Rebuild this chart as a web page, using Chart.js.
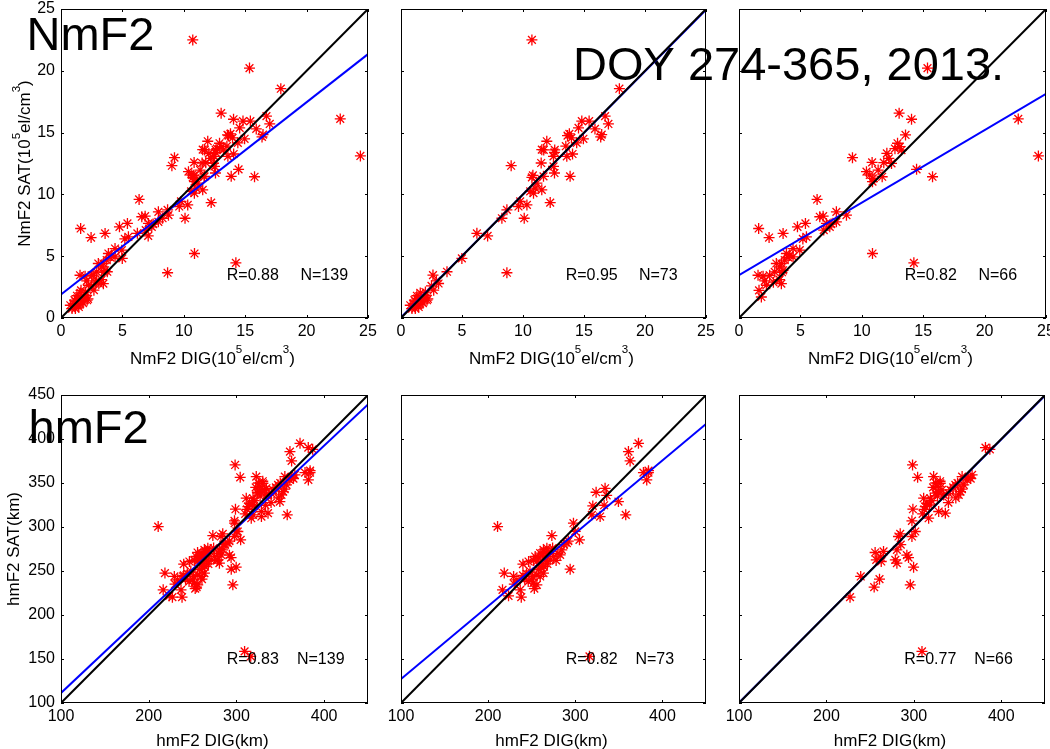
<!DOCTYPE html>
<html>
<head>
<meta charset="utf-8">
<script src="https://cdn.jsdelivr.net/npm/chart.js@4.4.1/dist/chart.umd.min.js"></script>
<style>
  html, body { margin: 0; padding: 0; background: #fff; overflow: hidden; }
  #fig { position: relative; width: 1050px; height: 749px; }
  #fig canvas { position: absolute; left: 0; top: 0; }
</style>
</head>
<body>
<div id="fig"></div>
<script>
// ---- NmF2 (10^5 el/cm^3): ionosonde (DIG) vs satellite (SAT), two sub-sets ----
const nmDigA = [
  10.73,17.9,14.82,15.42,16.73,17.0,14.55,15.9,16.45,16.37,
  14.95,13.65,13.97,14.4,11.95,11.54,11.7,12.58,12.5,13.51,
  13.59,14.06,11.49,12.5,9.03,10.81,10.73,12.58,13.86,11.68,
  11.14,10.59,10.86,11.54,9.77,9.63,10.32,12.23,10.1,8.68,
  8.27,6.22,7.1,4.99,3.77,8.68,2.62,3.08,2.68,1.58,
  1.99,2.13,1.31,1.04,0.76,1.45,1.72,1.17,0.9,1.86,
  1.2,1.4,1.6,1.3,1.8,2.2,2.0,1.1,2.5,2.9,
  11.0,12.6,13.8];
const nmSatA = [
  22.5,18.55,15.93,15.93,16.33,15.7,15.38,15.3,14.84,14.65,
  14.5,14.76,14.57,14.17,14.3,13.62,13.6,13.4,13.08,13.9,
  13.08,13.27,12.54,12.27,12.32,11.54,11.38,11.73,11.46,11.46,
  10.92,10.24,10.1,10.37,9.43,9.02,9.15,9.34,8.07,8.75,
  8.07,6.85,6.64,4.82,3.74,3.66,3.47,2.79,2.25,2.03,
  1.84,1.44,1.57,1.16,1.03,0.89,1.3,0.76,0.76,1.7,
  1.1,1.05,1.45,1.8,1.2,1.55,2.1,1.45,2.6,3.0,
  10.5,13.6,14.9];
const nmDigB = [
  15.35,22.74,24.38,13.04,14.05,13.56,12.91,13.1,13.23,9.24,
  10.84,12.04,12.2,11.79,12.42,11.33,10.38,10.65,11.66,10.87,
  14.46,15.76,6.36,6.85,6.58,7.93,8.75,7.12,7.39,6.9,
  7.93,4.76,5.41,5.49,1.6,3.59,2.45,4.4,4.95,3.86,
  4.4,10.87,14.24,3.72,3.45,3.32,3.59,2.91,2.5,1.55,
  1.96,3.45,2.23,1.63,1.82,3.04,4.13,3.3,2.8,3.5,
  2.1,4.0,5.2,7.5,10.9,12.7];
const nmSatB = [
  20.22,16.11,13.11,16.57,16.08,14.81,14.14,13.86,13.59,12.97,
  12.59,13.32,12.92,12.57,12.51,11.97,11.84,11.57,11.43,11.03,
  12.03,11.43,9.59,8.24,8.19,8.59,8.32,7.65,7.38,7.11,
  7.78,7.38,7.65,6.57,7.24,6.84,6.51,5.62,5.49,5.22,
  4.95,5.22,4.46,4.68,4.41,4.14,3.86,3.73,3.46,3.46,
  3.38,2.78,2.65,2.24,1.7,4.41,5.08,3.1,2.9,3.7,
  3.0,4.9,6.4,7.6,11.3,13.7];

// ---- hmF2 (km) ----
const hmDigA = [
  210.8,218.5,216.5,223.4,229.2,236.8,238.0,233.0,239.9,246.4,
  250.2,252.0,255.9,254.0,259.7,263.5,267.4,261.6,263.5,259.7,
  255.9,273.1,271.2,275.0,282.6,284.5,290.3,294.1,297.9,304.8,
  320.1,323.9,334.2,333.1,328.5,319.0,349.5,357.9,361.0,362.9,
  372.5,378.2,383.9,382.0,316.3,244,248,252,258,262,
  265,268,270,266,262,258,256,251,246,242,
  253,264,268,278,280,287,292,230,240,274,
  300,336,384];
const hmSatA = [
  300.5,247.6,228.6,221.8,243.8,228.6,220.3,240.0,257.8,260.8,
  240.0,236.2,234.3,266.5,270.3,274.0,275.9,253.2,247.6,243.8,
  260.8,290.3,262.7,266.5,268.4,274.0,281.6,252.1,304.3,285.4,
  324.0,339.5,344.0,324.7,311.9,313.8,328.9,313.8,385.7,375.1,
  395.1,361.8,361.8,353.5,153.0,247,250,262,265,268,
  271,270,272,262,258,252,245,244,238,241,
  230,255,258,262,270,280,284,235,245,276,
  295,336,364];
const hmDigB = [
  298.5,304.3,309.3,227,239.2,254.6,260.7,295.9,299.7,255.7,
  265.3,257,262.7,280.6,278.8,280.6,293.9,284.4,282.4,297.8,
  301.6,297.8,298.9,316.9,311.2,315,313.1,328.4,336,322.6,
  326.4,330.2,324.5,332.1,334.1,341.8,347.5,353.3,351.3,357.1,
  355.2,366.6,362.8,381.9,386.9,360.9,339.5,318.9,322,325,
  328,330,327,320,318,312,340,345,350,348,
  355,365,310,262,285,292];
const hmSatB = [
  370.5,356.5,158.6,220.3,243.8,231.7,240.7,234.3,254.4,271,
  272.2,262.7,260.8,274,262.7,258.9,265.3,292.2,289.2,289.2,
  294.9,307,320.2,310,332.7,327,323.2,317.6,315.7,357.3,
  345.9,349.7,338.4,342.1,336.5,342.1,347.8,340.3,336.5,347.8,
  357.3,359.2,356.5,390.2,388.3,353.5,327.8,332.7,345,350,
  340,352,335,330,325,320,338,345,350,333,
  343,355,315,266,280,268];

// ---- axes ----
const nmRange = [0, 25];
const hmRange = [100, 450];
const nmTicks = [0, 5, 10, 15, 20, 25];
const hmTicksX = [100, 200, 300, 400];
const hmTicksY = [100, 150, 200, 250, 300, 350, 400, 450];

// ---- linear fits (SAT = a + b * DIG) and correlations: all, A, B ----
const nmIntercepts = [1.9, 0.05, 3.46];
const nmSlopes = [0.778, 0.995, 0.587];
const nmCorr = ['0.88', '0.95', '0.82'];
const hmIntercepts = [17.7, 44.4, 0.8];
const hmSlopes = [0.937, 0.828, 0.997];
const hmCorr = ['0.83', '0.82', '0.77'];

// ---- titles ----
const nmTitle = 'NmF2';
const hmTitle = 'hmF2';
const periodTitle = 'DOY 274-365, 2013.';

const FONT = "'Liberation Sans', Arial, Helvetica, sans-serif";
const W = 1050, H = 749;
const YW = 40, XH = 30;

// plot rectangles [left, top, right, bottom]
const areas = [
  [61, 9, 368, 318], [401, 9, 706, 318], [739, 9, 1046, 318],
  [61, 395, 368, 703], [401, 395, 706, 703], [739, 395, 1045, 703]
];

const nmXLabel = [['NmF2 DIG(10', 0], ['5', 1], ['el/cm', 0], ['3', 1], [')', 0]];
const nmYLabel = [['NmF2 SAT(10', 0], ['5', 1], ['el/cm', 0], ['3', 1], [')', 0]];
const hmXLabel = [['hmF2 DIG(km)', 0]];
const hmYLabel = [['hmF2 SAT(km)', 0]];

// text with superscript pieces, centred on x, baseline at y
function drawRich(ctx, parts, size, x, y) {
  const sup = size * 0.68;
  const widths = parts.map(([t, s]) => {
    ctx.font = (s ? sup : size) + 'px ' + FONT;
    return ctx.measureText(t).width;
  });
  const total = widths.reduce((p, q) => p + q, 0);
  let cx = x - total / 2;
  ctx.textAlign = 'left';
  ctx.textBaseline = 'alphabetic';
  parts.forEach(([t, s], i) => {
    ctx.font = (s ? sup : size) + 'px ' + FONT;
    ctx.fillText(t, cx, s ? y - size * 0.6 : y);
    cx += widths[i];
  });
}

function decor(cfg) {
  return {
    id: 'decor',
    beforeDraw(chart) {
      if (!cfg.banners) return;
      const ctx = chart.ctx;
      ctx.save();
      ctx.fillStyle = '#000';
      ctx.textAlign = 'left';
      ctx.textBaseline = 'alphabetic';
      ctx.font = '47px ' + FONT;
      cfg.banners.forEach(b => ctx.fillText(b[0], b[1], b[2]));
      ctx.restore();
    },
    afterDraw(chart) {
      const { ctx, chartArea: a, scales: { x, y } } = chart;
      ctx.save();
      ctx.strokeStyle = '#000';
      ctx.lineWidth = 1;
      ctx.strokeRect(a.left + 0.5, a.top + 0.5, a.right - a.left - 1, a.bottom - a.top - 1);
      const tl = 3;
      ctx.beginPath();
      cfg.xTicks.forEach(v => {
        const px = Math.round(x.getPixelForValue(v)) + 0.5;
        ctx.moveTo(px, a.bottom); ctx.lineTo(px, a.bottom - tl);
        ctx.moveTo(px, a.top); ctx.lineTo(px, a.top + tl);
      });
      cfg.yTicks.forEach(v => {
        const py = Math.round(y.getPixelForValue(v)) + 0.5;
        ctx.moveTo(a.left, py); ctx.lineTo(a.left + tl, py);
        ctx.moveTo(a.right, py); ctx.lineTo(a.right - tl, py);
      });
      ctx.stroke();

      ctx.fillStyle = '#000';
      ctx.font = '16px ' + FONT;
      ctx.textAlign = 'left';
      ctx.textBaseline = 'middle';
      const sy = y.getPixelForValue(cfg.statY);
      ctx.fillText('R=' + cfg.r, x.getPixelForValue(cfg.statX[0]), sy);
      ctx.fillText('N=' + cfg.n, x.getPixelForValue(cfg.statX[1]), sy);

      const midX = (a.left + a.right) / 2 - 2;
      drawRich(ctx, cfg.xLabel, 17, midX, cfg.xLabelY);
      if (cfg.yLabel) {
        ctx.save();
        ctx.translate(cfg.yLabelX, (a.top + a.bottom) / 2);
        ctx.rotate(-Math.PI / 2);
        drawRich(ctx, cfg.yLabel, 17, 0, 0);
        ctx.restore();
      }
      ctx.restore();
    }
  };
}

function zeroPad(s) {
  s.paddingLeft = 0; s.paddingRight = 0; s.paddingTop = 0; s.paddingBottom = 0;
}

function makePanel(p) {
  const fig = document.getElementById('fig');
  const canvas = document.createElement('canvas');
  canvas.width = W; canvas.height = H;
  canvas.style.width = W + 'px'; canvas.style.height = H + 'px';
  fig.appendChild(canvas);
  const [l, t, r, b] = p.area;
  const pts = p.dig.map((v, i) => ({ x: v, y: p.sat[i] }));
  const lo = p.range[0], hi = p.range[1];
  const tickFont = { family: FONT, size: 16 };
  return new Chart(canvas, {
    type: 'scatter',
    data: {
      datasets: [
        { data: [{ x: lo, y: lo }, { x: hi, y: hi }], showLine: true, borderColor: '#000',
          borderWidth: 2, pointRadius: 0, fill: false },
        { data: [{ x: lo, y: p.a + p.b * lo }, { x: hi, y: p.a + p.b * hi }], showLine: true,
          borderColor: '#0000ff', borderWidth: 2, pointRadius: 0, fill: false },
        { data: pts, pointStyle: 'star', pointRadius: 5.5, borderColor: '#ff0000',
          pointBorderColor: '#ff0000', pointBorderWidth: 1.3, showLine: false }
      ]
    },
    options: {
      responsive: false,
      animation: false,
      devicePixelRatio: 1,
      events: [],
      layout: {
        autoPadding: false,
        padding: { left: l - YW, top: t, right: W - r, bottom: H - b - XH }
      },
      plugins: { legend: { display: false }, tooltip: { enabled: false } },
      scales: {
        x: {
          type: 'linear', min: lo, max: hi,
          afterBuildTicks: s => { s.ticks = p.xTicks.map(v => ({ value: v })); },
          afterFit: s => { s.height = XH; zeroPad(s); },
          grid: { display: false, drawTicks: false },
          border: { display: false },
          ticks: { color: '#000', font: tickFont, padding: 4, maxRotation: 0, autoSkip: false }
        },
        y: {
          type: 'linear', min: lo, max: hi,
          afterBuildTicks: s => { s.ticks = p.yTicks.map(v => ({ value: v })); },
          afterFit: s => { s.width = YW; zeroPad(s); },
          grid: { display: false, drawTicks: false },
          border: { display: false },
          ticks: { display: p.showY, color: '#000', font: tickFont, padding: 6, autoSkip: false }
        }
      }
    },
    plugins: [decor({
      xTicks: p.xTicks, yTicks: p.yTicks, r: p.r, n: pts.length,
      statX: p.statX, statY: p.statY,
      xLabel: p.xLabel, xLabelY: p.xLabelY,
      yLabel: p.showY ? p.yLabel : null, yLabelX: p.yLabelX,
      banners: p.banners
    })]
  });
}

const nmSets = [
  [nmDigA.concat(nmDigB), nmSatA.concat(nmSatB)],
  [nmDigA, nmSatA],
  [nmDigB, nmSatB]
];
const hmSets = [
  [hmDigA.concat(hmDigB), hmSatA.concat(hmSatB)],
  [hmDigA, hmSatA],
  [hmDigB, hmSatB]
];

nmSets.forEach((set, i) => makePanel({
  area: areas[i], dig: set[0], sat: set[1], range: nmRange,
  xTicks: nmTicks, yTicks: nmTicks, a: nmIntercepts[i], b: nmSlopes[i], r: nmCorr[i],
  statX: [13.5, 19.5], statY: 3.4, showY: i === 0,
  xLabel: nmXLabel, xLabelY: 363.5, yLabel: nmYLabel, yLabelX: 30,
  banners: i === 0 ? [[nmTitle, 26.5, 50], [periodTitle, 573, 80], [hmTitle, 28.5, 443]] : null
}));

hmSets.forEach((set, i) => makePanel({
  area: areas[i + 3], dig: set[0], sat: set[1], range: hmRange,
  xTicks: hmTicksX, yTicks: hmTicksY, a: hmIntercepts[i], b: hmSlopes[i], r: hmCorr[i],
  statX: [289, 369], statY: 149, showY: i === 0,
  xLabel: hmXLabel, xLabelY: 745.5, yLabel: hmYLabel, yLabelX: 18.5,
  banners: null
}));
</script>
</body>
</html>
